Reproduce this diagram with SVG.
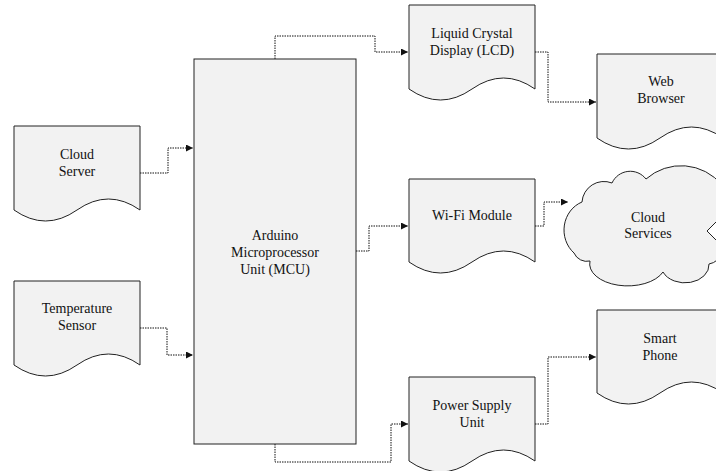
<svg xmlns="http://www.w3.org/2000/svg" width="716" height="471" viewBox="0 0 716 471">
<style>
.shape{fill:#f2f2f2;stroke:#222;stroke-width:1}
.lbl{font-family:"Liberation Serif","Times New Roman",serif;font-size:14px;fill:#111;text-anchor:middle}
.conn{fill:none;stroke:#111;stroke-width:1;stroke-dasharray:1.5 1}
</style>
<defs>
<marker id="arr" markerUnits="userSpaceOnUse" markerWidth="8" markerHeight="7" refX="7" refY="3.5" orient="auto">
<path d="M0,0 L7,3.5 L0,7 z" fill="#111"/>
</marker>
</defs>
<rect width="716" height="471" fill="#fff"/>
<g id="connectors">
<path class="conn" d="M140,173 H168 V148 H193" marker-end="url(#arr)"/>
<path class="conn" d="M140,328 H167 V355 H193" marker-end="url(#arr)"/>
<path class="conn" d="M275,59 V36 H375 V52 H408" marker-end="url(#arr)"/>
<path class="conn" d="M535,52 H548 V102 H596" marker-end="url(#arr)"/>
<path class="conn" d="M356,251 H369 V226 H408" marker-end="url(#arr)"/>
<path class="conn" d="M535,226 H544 V202 H568" marker-end="url(#arr)"/>
<path class="conn" d="M275,444 V462 H391 V424 H408" marker-end="url(#arr)"/>
<path class="conn" d="M535,424 H548 V357 H596" marker-end="url(#arr)"/>
</g>
<g id="cloud-server">
<path class="shape" d="M14,126 H140 V210 Q108.5,188 77,210 Q45.5,232 14,210 Z"/>
<text class="lbl" x="77" y="159">Cloud</text>
<text class="lbl" x="77" y="176">Server</text>
</g>
<g id="temperature-sensor">
<path class="shape" d="M14,281 H140 V365 Q108.5,343 77,365 Q45.5,387 14,365 Z"/>
<text class="lbl" x="77" y="313">Temperature</text>
<text class="lbl" x="77" y="330">Sensor</text>
</g>
<g id="mcu">
<rect class="shape" x="194" y="59" width="162" height="385"/>
<text class="lbl" x="275" y="240">Arduino</text>
<text class="lbl" x="275" y="257">Microprocessor</text>
<text class="lbl" x="275" y="274">Unit (MCU)</text>
</g>
<g id="lcd">
<path class="shape" d="M409,5 H535 V89 Q503.5,67 472,89 Q440.5,111 409,89 Z"/>
<text class="lbl" x="472" y="38">Liquid Crystal</text>
<text class="lbl" x="472" y="55">Display (LCD)</text>
</g>
<g id="web-browser">
<path class="shape" d="M597,54 H723 V138 Q691.5,116 660,138 Q628.5,160 597,138 Z"/>
<text class="lbl" x="661" y="86">Web</text>
<text class="lbl" x="661" y="103">Browser</text>
</g>
<g id="wifi">
<path class="shape" d="M409,179 H535 V262 Q503.5,240 472,262 Q440.5,284 409,262 Z"/>
<text class="lbl" x="472" y="220">Wi-Fi Module</text>
</g>
<g id="cloud-services">
<path class="shape" d="M582,202 A22 22 0 0 1 612,183 A20 20 0 0 1 646,179 A53 53 0 0 1 722,185 L722,216 L707,231 L722,246 L722,252 A16 16 0 0 1 709,264 A24 18 0 0 1 663,272 A38 22 0 0 1 590,261 A14 14 0 0 1 574,253 A28 30 0 0 1 582,202 Z"/>
<text class="lbl" x="648" y="222">Cloud</text>
<text class="lbl" x="648" y="238">Services</text>
</g>
<g id="smart-phone">
<path class="shape" d="M597,310 H723 V393 Q691.5,371 660,393 Q628.5,415 597,393 Z"/>
<text class="lbl" x="660" y="343">Smart</text>
<text class="lbl" x="660" y="360">Phone</text>
</g>
<g id="power-supply">
<path class="shape" d="M409,377 H535 V461 Q503.5,439 472,461 Q440.5,483 409,461 Z"/>
<text class="lbl" x="472" y="410">Power Supply</text>
<text class="lbl" x="472" y="427">Unit</text>
</g>
</svg>
